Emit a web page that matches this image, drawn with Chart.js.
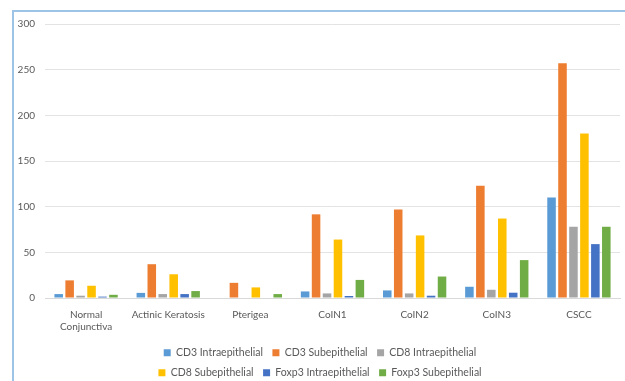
<!DOCTYPE html>
<html>
<head>
<meta charset="utf-8">
<script src="https://cdn.jsdelivr.net/npm/chart.js@4/dist/chart.umd.min.js"></script>
<style>
  html, body { margin: 0; padding: 0; background: #fff; overflow: hidden; }
  #frame {
    position: absolute; left: 12px; top: 10px; width: 640px; height: 400px;
    border-left: 2px solid #9dc3e6; border-top: 2px solid #9dc3e6;
  }
  #wrap { position: absolute; left: 15px; top: 8px; width: 610px; height: 380px; }
</style>
</head>
<body>
<div id="frame"></div>
<div id="wrap"><canvas id="tcells"></canvas></div>
<script>
const categories = [["Normal", "Conjunctiva"], "Actinic Keratosis", "Pterigea", "CoIN1", "CoIN2", "CoIN3", "CSCC"];
const seriesNames = ["CD3 Intraepithelial", "CD3 Subepithelial", "CD8 Intraepithelial",
                     "CD8 Subepithelial", "Foxp3 Intraepithelial", "Foxp3 Subepithelial"];
const cd3Intra = [4.3, 5.6, 0, 7.2, 8.3, 12.3, 110];
const cd3Sub = [19.3, 37, 16.6, 91.6, 97, 123, 257];
const cd8Intra = [2.5, 4.3, 0, 5, 5, 9, 78];
const cd8Sub = [13.4, 26, 11.6, 64, 68.5, 87, 180];
const foxIntra = [1.5, 4.3, 0, 2.2, 2.5, 5.8, 59];
const foxSub = [3.5, 7.6, 4.3, 19.8, 23.5, 41.5, 78];
const yTicks = [0, 50, 100, 150, 200, 250, 300];

const colors = ["#5b9bd5", "#ed7d31", "#a5a5a5", "#ffc000", "#4472c4", "#70ad47"];
const values = [cd3Intra, cd3Sub, cd8Intra, cd8Sub, foxIntra, foxSub];

const FONT = "Lato, 'Liberation Sans', sans-serif";
const LEGEND_W = 360;

// keep the legend to three items per row, like the original
const legendRows = {
  id: "legendRows",
  beforeUpdate(chart) {
    const lg = chart.legend;
    if (!lg || lg._rowsPatched) return;
    lg._rowsPatched = true;
    const fit = lg.fit;
    lg.fit = function () {
      const full = this.maxWidth;
      this.maxWidth = LEGEND_W;
      fit.call(this);
      this.maxWidth = full;
      this.width = full;
    };
  },
  afterLayout(chart) {
    const lg = chart.legend;
    const mid = 305;
    lg.left = mid - LEGEND_W / 2;
    lg.right = mid + LEGEND_W / 2;
  }
};

new Chart(document.getElementById("tcells"), {
  type: "bar",
  data: {
    labels: categories,
    datasets: seriesNames.map((name, i) => ({
      label: name,
      data: values[i],
      backgroundColor: colors[i],
      categoryPercentage: 0.8,
      barPercentage: 0.78
    }))
  },
  options: {
    responsive: true,
    maintainAspectRatio: false,
    animation: false,
    layout: { padding: { top: 4, right: 5, left: 0, bottom: 0 } },
    plugins: {
      tooltip: { enabled: false },
      legend: {
        position: "bottom",
        labels: {
          boxWidth: 7,
          boxHeight: 7,
          padding: 9.5,
          color: "#595959",
          font: { family: FONT, size: 10.5 }
        }
      }
    },
    scales: {
      x: {
        grid: { display: false },
        border: { color: "#d9d9d9" },
        ticks: { color: "#595959", font: { family: FONT, size: 10 }, maxRotation: 0, autoSkip: false },
        afterFit(axis) { axis.height += 2; }
      },
      y: {
        min: 0,
        max: 300,
        afterBuildTicks(axis) { axis.ticks = yTicks.map(v => ({ value: v })); },
        afterFit(axis) { axis.width = 30; },
        grid: { color: "#e3e3e3", drawTicks: false },
        border: { display: false },
        ticks: { color: "#595959", padding: 10, font: { family: FONT, size: 10 } }
      }
    }
  },
  plugins: [legendRows]
});
</script>
</body>
</html>
